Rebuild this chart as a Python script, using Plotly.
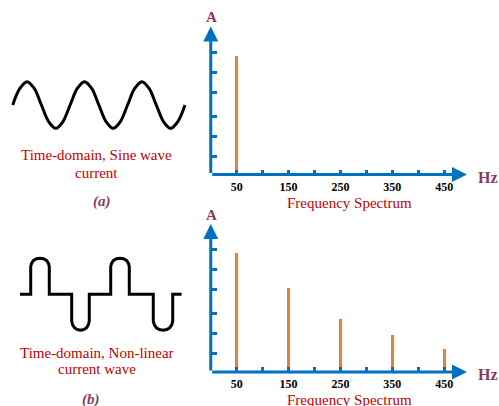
import plotly.graph_objects as go

# ---------------- data ----------------
# time-domain sine wave (eighth-period samples)
SINE_T = [0, 0.125, 0.25, 0.375, 0.5, 0.625, 0.75, 0.875,
          1.0, 1.125, 1.25, 1.375, 1.5, 1.625, 1.75, 1.875,
          2.0, 2.125, 2.25, 2.375, 2.5, 2.625, 2.75, 2.875, 3.0]
SINE_V = [0, 0.71, 1, 0.71, 0, -0.71, -1, -0.71,
          0, 0.71, 1, 0.71, 0, -0.71, -1, -0.71,
          0, 0.71, 1, 0.71, 0, -0.71, -1, -0.71, 0]

# time-domain non-linear current wave
WAVE_T = [0, 0.134,
          0.134, 0.144, 0.169, 0.206, 0.25, 0.294, 0.331, 0.356, 0.366,
          0.366, 0.646,
          0.646, 0.656, 0.68, 0.715, 0.756, 0.798, 0.833, 0.856, 0.866,
          0.866, 1.134,
          1.134, 1.144, 1.169, 1.206, 1.25, 1.294, 1.331, 1.356, 1.366,
          1.366, 1.666,
          1.666, 1.678, 1.704, 1.743, 1.788, 1.833, 1.871, 1.898, 1.909,
          1.909, 2.02]
WAVE_V = [0, 0,
          0.767, 0.856, 0.939, 0.986, 1.0, 0.986, 0.939, 0.856, 0.767,
          0, 0,
          -0.74, -0.84, -0.93, -0.98, -1.0, -0.98, -0.93, -0.84, -0.74,
          0, 0,
          0.767, 0.856, 0.939, 0.986, 1.0, 0.986, 0.939, 0.856, 0.767,
          0, 0,
          -0.74, -0.84, -0.93, -0.98, -1.0, -0.98, -0.93, -0.84, -0.74,
          0, 0]

# frequency spectra
FREQ_A = [50]
AMP_A = [5.8]
FREQ_B = [50, 150, 250, 350, 450]
AMP_B = [5.8, 4.11, 2.57, 1.79, 1.11]

X_TICKS = [50, 100, 150, 200, 250, 300, 350, 400, 450]
X_TICK_TEXT = ["50", "", "150", "", "250", "", "350", "", "450"]
Y_TICKS = [0.9, 1.87, 2.84, 4.01, 4.99, 5.97]

X_MAX = 494
Y_MAX = 7.22

# ---------------- style ----------------
BLUE = "#0070C0"
ORANGE = "#ED7D31"
RED = "#C00000"
PLUM = "#863B64"
SERIF = "Liberation Serif, Times New Roman, serif"

W, H = 499, 406


def px(x):
    return x / W


def py(y):
    return 1 - y / H


fig = go.Figure()

fig.add_trace(go.Bar(x=FREQ_A, y=AMP_A, width=5.8, marker=dict(color=ORANGE, line=dict(width=0)),
                     xaxis="x", yaxis="y"))
fig.add_trace(go.Bar(x=FREQ_B, y=AMP_B, width=5.8, marker=dict(color=ORANGE, line=dict(width=0)),
                     xaxis="x2", yaxis="y2"))
fig.add_trace(go.Scatter(x=SINE_T, y=SINE_V, mode="lines",
                         line=dict(color="black", width=3, shape="spline", smoothing=1.0),
                         xaxis="x3", yaxis="y3"))
fig.add_trace(go.Scatter(x=WAVE_T, y=WAVE_V, mode="lines",
                         line=dict(color="black", width=3),
                         xaxis="x4", yaxis="y4"))

spec_x = dict(range=[0, X_MAX], showgrid=False, zeroline=False, showline=False,
              tickmode="array", tickvals=X_TICKS, ticktext=X_TICK_TEXT,
              ticks="inside", ticklen=5, tickwidth=2.5, tickcolor=BLUE,
              ticklabelstandoff=3,
              tickfont=dict(family=SERIF, size=12, color="black", weight="bold"),
              layer="above traces", fixedrange=True)
spec_y = dict(range=[0, Y_MAX], showgrid=False, zeroline=False, showline=False,
              tickmode="array", tickvals=Y_TICKS, showticklabels=False,
              ticks="inside", ticklen=6, tickwidth=2.5, tickcolor=BLUE,
              layer="above traces", fixedrange=True)
hidden = dict(visible=False, showgrid=False, zeroline=False, fixedrange=True)

fig.update_layout(
    width=W, height=H, margin=dict(l=0, r=0, t=0, b=0),
    paper_bgcolor="white", plot_bgcolor="rgba(0,0,0,0)",
    showlegend=False, bargap=0, hovermode=False,
    xaxis=dict(spec_x, domain=[px(210.75), px(467)], anchor="y"),
    yaxis=dict(spec_y, domain=[py(174.5), py(26.5)], anchor="x"),
    xaxis2=dict(spec_x, domain=[px(210.75), px(467)], anchor="y2"),
    yaxis2=dict(spec_y, domain=[py(372), py(224)], anchor="x2"),
    xaxis3=dict(hidden, range=[-0.1, 3.1], domain=[px(6.96), px(190.74)], anchor="y3"),
    yaxis3=dict(hidden, range=[-1.5, 1.5], domain=[py(140), py(70)], anchor="x3"),
    xaxis4=dict(hidden, range=[-0.1, 2.12], domain=[px(12), px(189.6)], anchor="y4"),
    yaxis4=dict(hidden, range=[-1.3, 1.3], domain=[py(341.1), py(247.5)], anchor="x4"),
)

annotations = []
# axis lines with arrowheads
for xr, yr in (("x", "y"), ("x2", "y2")):
    annotations.append(dict(x=X_MAX, y=0, ax=0, ay=0, xref=xr, yref=yr, axref=xr, ayref=yr,
                            text="", showarrow=True, arrowhead=2, arrowsize=1.0,
                            arrowwidth=3, arrowcolor=BLUE, standoff=0))
    annotations.append(dict(x=0, y=Y_MAX, ax=0, ay=0, xref=xr, yref=yr, axref=xr, ayref=yr,
                            text="", showarrow=True, arrowhead=2, arrowsize=1.0,
                            arrowwidth=3, arrowcolor=BLUE, standoff=0))


def label(text, x, y, size, color, bold=False, italic=False):
    annotations.append(dict(text=text, x=px(x), y=py(y), xref="paper", yref="paper",
                            xanchor="center", yanchor="middle", showarrow=False,
                            font=dict(family=SERIF, size=size, color=color,
                                      weight="bold" if bold else "normal",
                                      style="italic" if italic else "normal")))


label("A", 211.7, 17, 15, PLUM, bold=True)
label("A", 211.7, 215, 15, PLUM, bold=True)
label("Hz", 487.8, 177.7, 16, PLUM, bold=True)
label("Hz", 487.8, 374, 16, PLUM, bold=True)
label("Frequency Spectrum", 349.3, 203, 15, RED)
label("Frequency Spectrum", 349.3, 399.5, 15, RED)
label("Time-domain, Sine wave", 96.3, 155, 15, RED)
label("current", 96.3, 172.7, 15, RED)
label("Time-domain, Non-linear", 96.7, 353.3, 15, RED)
label("current wave", 96.7, 369.3, 15, RED)
label("(a)", 102, 201.7, 15, PLUM, bold=True, italic=True)
label("(b)", 91, 399.5, 15, PLUM, bold=True, italic=True)

fig.update_layout(annotations=annotations)

fig.write_html("out.html", config={"displayModeBar": False},
               post_script="document.body.style.margin='0px';document.body.style.overflow='hidden';")
